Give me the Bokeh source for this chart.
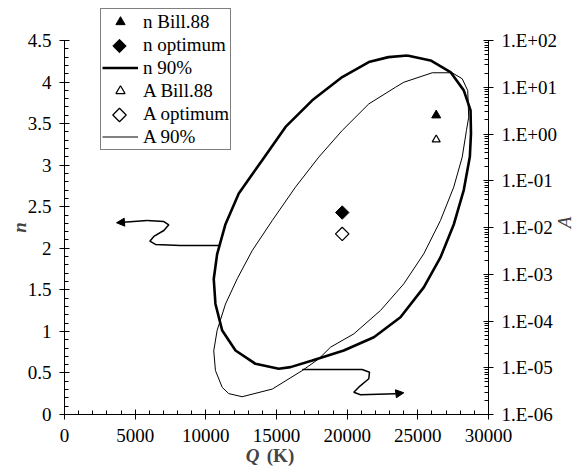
import math
from bokeh.plotting import figure
from bokeh.models import (Range1d, LinearAxis, LogAxis, LogScale, FixedTicker, LogTicker,
                          CustomJSTickFormatter, Legend, LegendItem, Arrow, NormalHead, Label)
from bokeh.embed import file_html
from bokeh.resources import INLINE

# ---- data ----
n_bill_q = [26300]
n_bill = [3.6]
n_opt_q = [19650]
n_opt = [2.43]
A_bill_q = [26300]
A_bill = [0.76]
A_opt_q = [19650]
A_opt = [0.0073]

n90_q = [24250, 25900, 27310, 28250, 28730, 28760, 28680, 28250, 27550, 26600, 25420, 23770,
         21890, 19760, 17530, 15990, 15160, 13510, 12100, 11160, 10680, 10560, 10800, 11390,
         12330, 13990, 15640, 17530, 19650, 21530, 22920, 24250]
n90_n = [4.32, 4.26, 4.12, 3.90, 3.66, 3.38, 3.10, 2.70, 2.29, 1.89, 1.53, 1.17,
         0.93, 0.77, 0.65, 0.57, 0.55, 0.61, 0.77, 1.01, 1.33, 1.63, 1.93, 2.29,
         2.66, 3.06, 3.46, 3.78, 4.06, 4.24, 4.30, 4.32]

A90_q = [26020, 27430, 28140, 28530, 28600, 28440, 28140, 27540, 26600, 25420, 24010, 22360,
         20470, 18820, 17990, 16820, 14700, 12570, 11620, 11160, 10680, 10560, 10800, 11390,
         12220, 13280, 14700, 16340, 17990, 19650, 21530, 23420, 24010, 26020]
A90 = [20.4, 20.4, 15.2, 8.5, 2.29, 1.19, 0.32, 0.073, 0.0141, 2.74e-3, 6.25e-4, 1.68e-4,
       5.3e-5, 2.75e-5, 1.55e-5, 8.7e-6, 3.5e-6, 2.4e-6, 2.8e-6, 3.8e-6, 8.7e-6, 2.3e-5, 6.3e-5, 2.3e-4,
       8.0e-4, 3.2e-3, 0.0141, 0.073, 0.32, 1.19, 4.4, 10.0, 12.8, 20.4]

# hand-drawn arrows (annotations)
arrow1_q = [10920, 8210, 6440, 6040, 6320, 7030, 7380, 7030, 5850, 3680]
arrow1_n = [2.034, 2.034, 2.046, 2.085, 2.142, 2.214, 2.283, 2.322, 2.334, 2.307]
arrow2_q = [16820, 21060, 21580, 21530, 20820, 20470, 20940, 23420, 24010]
arrow2_n = [0.542, 0.542, 0.509, 0.430, 0.329, 0.268, 0.237, 0.249, 0.261]

x_major = [0, 5000, 10000, 15000, 20000, 25000, 30000]
x_minor = list(range(0, 30001, 1000))
n_major = [0, 0.5, 1, 1.5, 2, 2.5, 3, 3.5, 4, 4.5]
n_minor = [i / 10 for i in range(0, 46)]
Q_MAX, N_MAX = 30000, 4.5
A_MIN_EXP, A_MAX_EXP = -6, 2

# ---- layout (pixels) ----
W, H = 585, 468
FL, FR, FT, FB = 64, 488, 40, 414   # where the axes sit
qpp = Q_MAX / (FR - FL)
npp = N_MAX / (FB - FT)
dpp = (A_MAX_EXP - A_MIN_EXP) / (FB - FT)

def qx(X):
    return (X - FL) * qpp

def ny(Y):
    return (FB - Y) * npp

FONT = "Liberation Serif"
FS = "19px"

p = figure(width=W, height=H,
           x_range=Range1d(qx(0), qx(W)), y_range=Range1d(ny(H), ny(0)),
           output_backend="svg", toolbar_location=None,
           min_border_left=0, min_border_right=0, min_border_top=0, min_border_bottom=0,
           x_axis_type=None, y_axis_type=None)
p.outline_line_color = None
p.xgrid.visible = False
p.ygrid.visible = False
p.extra_y_ranges = {"A": Range1d(10 ** (A_MIN_EXP - (H - FB) * dpp), 10 ** (A_MAX_EXP + FT * dpp))}
p.extra_y_scales = {"A": LogScale()}

def style(ax):
    ax.axis_line_color = "black"
    ax.major_tick_line_color = "black"
    ax.minor_tick_line_color = "black"
    ax.major_tick_in = 5
    ax.major_tick_out = 5
    ax.minor_tick_in = 4
    ax.minor_tick_out = 0
    ax.major_label_text_font = FONT
    ax.major_label_text_font_size = FS
    ax.major_label_text_color = "black"

xax = LinearAxis(ticker=FixedTicker(ticks=x_major, minor_ticks=x_minor),
                 fixed_location=0, bounds=(0, Q_MAX))
style(xax)
xax.major_label_standoff = 9
p.add_layout(xax, "below")

yax = LinearAxis(ticker=FixedTicker(ticks=n_major, minor_ticks=n_minor),
                 formatter=CustomJSTickFormatter(code="return String(Math.round(tick*10)/10);"),
                 fixed_location=0, bounds=(0, N_MAX))
style(yax)
yax.major_label_standoff = 8
p.add_layout(yax, "left")

aax = LogAxis(y_range_name="A", ticker=LogTicker(num_minor_ticks=10),
              formatter=CustomJSTickFormatter(code="""
const e = Math.round(Math.log10(tick));
const a = Math.abs(e);
return '1.E' + (e < 0 ? '-' : '+') + (a < 10 ? '0' : '') + a;"""),
              fixed_location=Q_MAX, bounds=(10 ** A_MIN_EXP, 10 ** A_MAX_EXP))
style(aax)
aax.major_label_standoff = 8
p.add_layout(aax, "right")

# axis titles
p.add_layout(Label(x=qx(252), y=ny(455), text="Q", text_font=FONT, text_font_size=FS,
                   text_font_style="bold italic", text_align="center", text_baseline="middle"))
p.add_layout(Label(x=qx(280), y=ny(455), text="(K)", text_font=FONT, text_font_size=FS,
                   text_font_style="bold", text_align="center", text_baseline="middle"))
p.add_layout(Label(x=qx(19), y=ny(227), text="n", text_font=FONT, text_font_size=FS,
                   text_font_style="bold italic", text_align="center", text_baseline="middle",
                   angle=math.pi / 2))
p.add_layout(Label(x=qx(564), y=ny(222), text="A", text_font=FONT, text_font_size=FS,
                   text_font_style="italic", text_align="center", text_baseline="middle",
                   angle=math.pi / 2))

# glyphs
r_nb = p.scatter(n_bill_q, n_bill, marker="triangle", size=9, fill_color="black", line_color="black")
p.scatter(n_opt_q, n_opt, marker="square", angle=math.pi / 4, size=9.5,
          fill_color="black", line_color="black")
r_n90 = p.line(n90_q, n90_n, line_color="black", line_width=2.6)
r_ab = p.scatter(A_bill_q, A_bill, marker="triangle", size=8, fill_color="white", line_color="black",
                 line_width=1.2, y_range_name="A")
p.scatter(A_opt_q, A_opt, marker="square", angle=math.pi / 4, size=9.5, fill_color="white",
          line_color="black", line_width=1.3, y_range_name="A")
r_a90 = p.line(A90_q, A90, line_color="black", line_width=1, y_range_name="A")

# arrows
p.line(arrow1_q[:-1], arrow1_n[:-1], line_color="black", line_width=1.5)
p.add_layout(Arrow(end=NormalHead(size=8, fill_color="black", line_color="black"),
                   x_start=arrow1_q[-2], y_start=arrow1_n[-2], x_end=arrow1_q[-1], y_end=arrow1_n[-1],
                   line_color="black", line_width=1.5))
p.line(arrow2_q[:-1], arrow2_n[:-1], line_color="black", line_width=1.5)
p.add_layout(Arrow(end=NormalHead(size=8, fill_color="black", line_color="black"),
                   x_start=arrow2_q[-2], y_start=arrow2_n[-2], x_end=arrow2_q[-1], y_end=arrow2_n[-1],
                   line_color="black", line_width=1.5))

# legend (diamond entries drawn separately so they keep their 45-degree turn;
# nothing lies behind the legend box, so its background can stay transparent)
r_no_leg = p.scatter(n_opt_q, n_opt, marker="square", alpha=0)
r_ao_leg = p.scatter(A_opt_q, A_opt, marker="square", alpha=0, y_range_name="A")
LEG_L, LEG_B, PAD, ROW, GW = 100, 150, 1, 23, 36
legend = Legend(items=[
    LegendItem(label="n Bill.88", renderers=[r_nb]),
    LegendItem(label="n optimum", renderers=[r_no_leg]),
    LegendItem(label="n 90%", renderers=[r_n90]),
    LegendItem(label="A Bill.88", renderers=[r_ab]),
    LegendItem(label="A optimum", renderers=[r_ao_leg]),
    LegendItem(label="A 90%", renderers=[r_a90]),
], location=(LEG_L, H - LEG_B))
legend.label_text_font = FONT
legend.label_text_font_size = FS
legend.label_text_color = "black"
legend.glyph_width = GW
legend.glyph_height = ROW
legend.label_height = ROW
legend.spacing = 0
legend.padding = PAD
legend.margin = 0
legend.label_standoff = 5
legend.border_line_color = "black"
legend.border_line_width = 1
legend.background_fill_alpha = 0
p.add_layout(legend)

leg_top = LEG_B - 2 * PAD - 6 * ROW
gx = LEG_L + PAD + GW / 2
p.scatter([qx(gx)], [ny(leg_top + PAD + 1.5 * ROW)], marker="square", angle=math.pi / 4, size=9.5,
          fill_color="black", line_color="black")
p.scatter([qx(gx)], [ny(leg_top + PAD + 4.5 * ROW)], marker="square", angle=math.pi / 4, size=9.5,
          fill_color="white", line_color="black", line_width=1.3)

open("out.html", "w").write(file_html(p, INLINE))
